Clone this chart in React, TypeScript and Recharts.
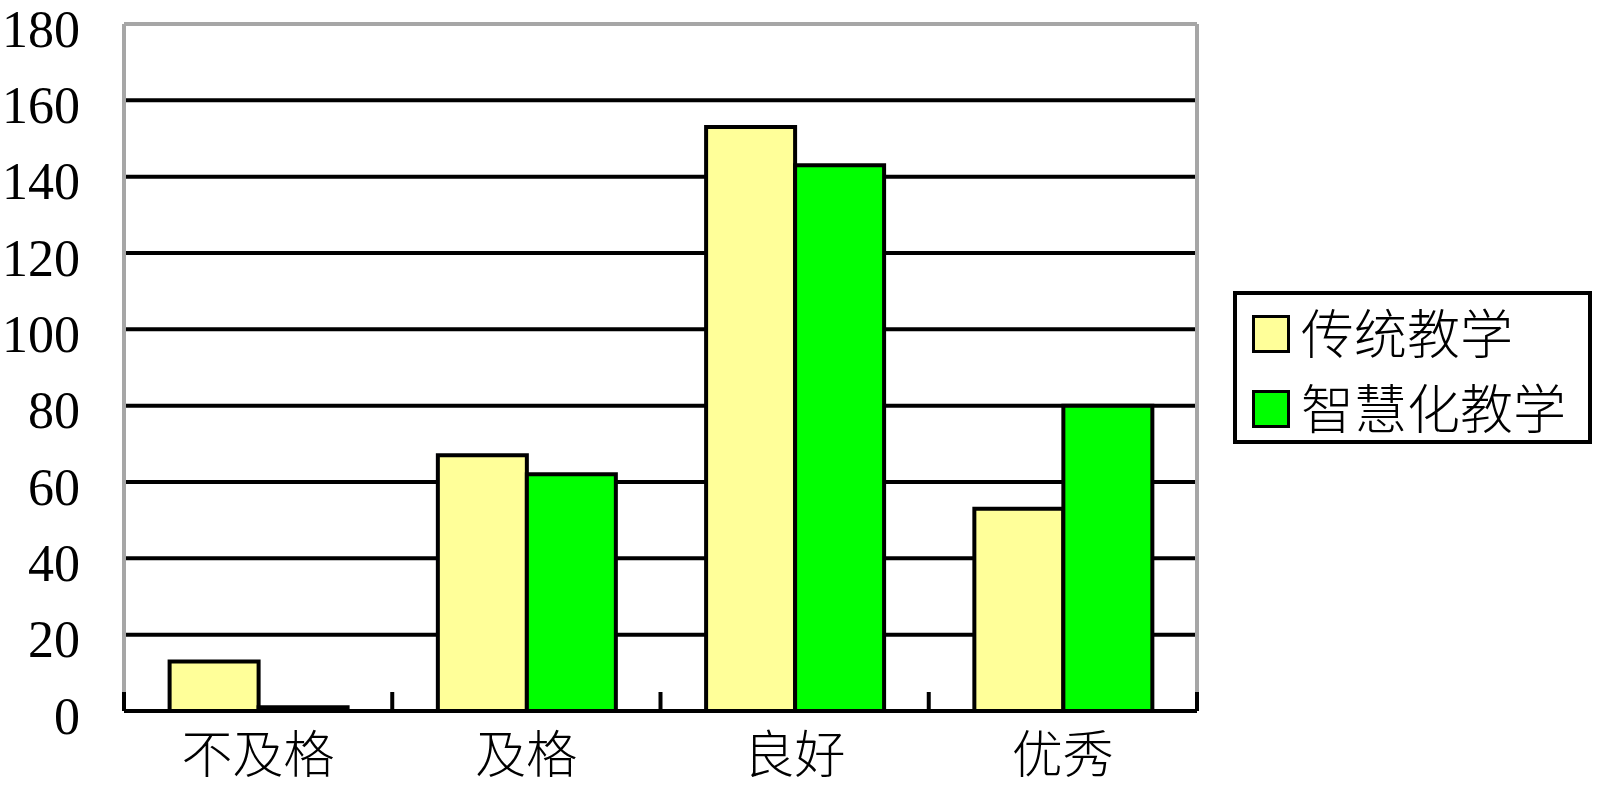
import React from 'react';
import { BarChart, Bar, XAxis, YAxis, CartesianGrid, Legend, ReferenceLine } from 'recharts';

const categories = ['不及格', '及格', '良好', '优秀'];
const traditionalValues = [13, 67, 153, 53];
const smartValues = [1, 62, 143, 80];
const yTicks = [0, 20, 40, 60, 80, 100, 120, 140, 160, 180];
const gridValues = [20, 40, 60, 80, 100, 120, 140, 160];
const seriesNames = ['传统教学', '智慧化教学'];

const data = categories.map((c, i) => ({
  name: c,
  traditional: traditionalValues[i],
  smart: smartValues[i],
}));

const W = 1600;
const H = 789;
const PLOT_LEFT = 124;
const PLOT_RIGHT = 1197;
const PLOT_TOP = 24;
const X_AXIS_H = 78;
const BAND = (PLOT_RIGHT - PLOT_LEFT) / categories.length;
const GRAY = '#a6a6a6';
const CJK = '"Noto Sans CJK SC", "Noto Sans CJK JP", sans-serif';
const SERIF = '"Liberation Serif", "Times New Roman", serif';

const XTick = (props: any) => {
  const { x, y, payload, index } = props;
  const last = index === categories.length - 1;
  return (
    <g>
      <line x1={x - BAND / 2} x2={x - BAND / 2} y1={y} y2={y - 19} stroke="#000" strokeWidth={4} />
      {last && <line x1={x + BAND / 2} x2={x + BAND / 2} y1={y} y2={y - 19} stroke="#000" strokeWidth={4} />}
      <text x={x} y={y + 62} textAnchor="middle" fontFamily={CJK} fontSize={51} fontWeight={300} fill="#000">
        {payload.value}
      </text>
    </g>
  );
};

const YTick = (props: any) => {
  const { x, y, payload } = props;
  return (
    <text x={x} y={y + 22.5} textAnchor="end" fontFamily={SERIF} fontSize={52} fill="#000">
      {payload.value}
    </text>
  );
};

const renderLegend = (props: any) => {
  const payload = props.payload || [];
  return (
    <svg width={359} height={153} style={{ display: 'block' }}>
      <rect x={2} y={2} width={355} height={149} fill="#fff" stroke="#000" strokeWidth={4} />
      {payload.map((entry: any, i: number) => (
        <g key={i}>
          <rect x={20.5} y={25.5 + i * 75} width={35} height={35} fill={entry.color} stroke="#000" strokeWidth={3} />
          <text x={68} y={63 + i * 75} fontFamily={CJK} fontSize={53} fontWeight={300} fill="#000">
            {entry.value}
          </text>
        </g>
      ))}
    </svg>
  );
};

export default function App() {
  return (
    <div style={{ position: 'absolute', left: 0, top: 0, width: W, height: H, background: '#fff' }}>
      <BarChart
        width={W}
        height={H}
        data={data}
        margin={{ top: PLOT_TOP, right: W - PLOT_RIGHT - 1, bottom: 0, left: 0 }}
        barGap={0}
        barCategoryGap="17%"
      >
        <CartesianGrid yAxisId="l" vertical={false} horizontalValues={gridValues} stroke="#000" strokeWidth={4} />
        <XAxis
          dataKey="name"
          height={X_AXIS_H}
          axisLine={{ stroke: '#000', strokeWidth: 4 }}
          tickLine={false}
          tickSize={0}
          tickMargin={0}
          tick={<XTick />}
          interval={0}
        />
        <YAxis
          yAxisId="l"
          width={PLOT_LEFT}
          domain={[0, 180]}
          ticks={yTicks}
          interval={0}
          axisLine={{ stroke: GRAY, strokeWidth: 4 }}
          tickLine={false}
          tickSize={0}
          tickMargin={44}
          tick={<YTick />}
        />
        <YAxis
          yAxisId="r"
          orientation="right"
          width={1}
          domain={[0, 180]}
          ticks={yTicks}
          axisLine={{ stroke: GRAY, strokeWidth: 4 }}
          tickLine={false}
          tick={false}
        />
        <ReferenceLine yAxisId="l" y={180} stroke={GRAY} strokeWidth={4} />
        <Bar yAxisId="l" dataKey="traditional" name={seriesNames[0]} fill="#FFFF99" stroke="#000" strokeWidth={4} isAnimationActive={false} />
        <Bar yAxisId="l" dataKey="smart" name={seriesNames[1]} fill="#00FF00" stroke="#000" strokeWidth={4} isAnimationActive={false} />
        <Legend
          layout="horizontal"
          align="center"
          verticalAlign="middle"
          content={renderLegend}
          wrapperStyle={{ left: 1233, top: 291, width: 359, height: 153, bottom: 'auto', right: 'auto' }}
        />
      </BarChart>
    </div>
  );
}
